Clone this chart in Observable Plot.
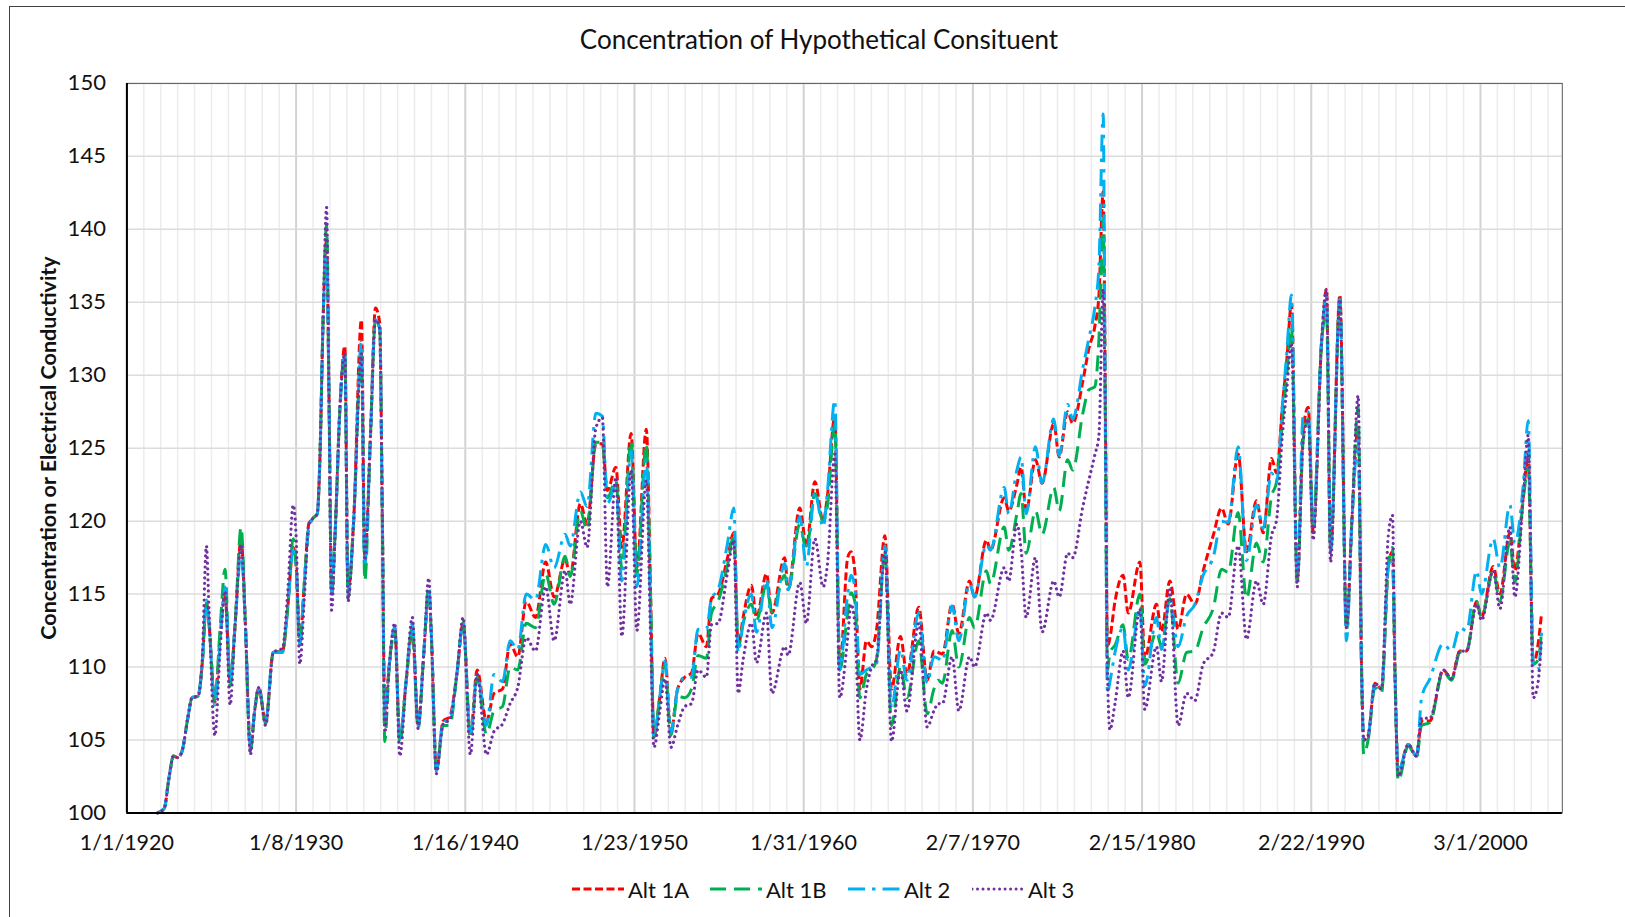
<!DOCTYPE html>
<html><head><meta charset="utf-8">
<script src="https://cdn.jsdelivr.net/npm/d3@7"></script>
<script src="https://cdn.jsdelivr.net/npm/@observablehq/plot@0.6"></script>
<style>
body{margin:0;background:#fff;}
#chart{position:relative;width:1625px;height:917px;overflow:hidden;background:#fff;font-family:Lato,"Open Sans",sans-serif;color:#111;}
#frame{position:absolute;left:9px;top:6px;width:1620px;height:1000px;border:1px solid #404040;box-sizing:border-box;}
#title{position:absolute;left:0;width:1638px;top:23px;text-align:center;font-size:26px;line-height:32px;}
#ylabel{position:absolute;left:48px;top:448px;transform:translate(-50%,-50%) rotate(-90deg);white-space:nowrap;font-weight:bold;font-size:21.5px;}
#plot{position:absolute;left:0;top:0;}
.leg{position:absolute;top:876px;height:26px;display:flex;align-items:center;font-size:22px;}
.leg svg{margin-right:4px;}
</style>
</head><body>
<div id="chart">
  <div id="frame"></div>
  <div id="plot"></div>
  <div id="title">Concentration of Hypothetical Consituent</div>
  <div id="ylabel">Concentration or Electrical Conductivity</div>
  <div id="legend"></div>
</div>
<script>
// ---- data (decimal year, in 366-day steps from 1/1/1920) ----
const years = [
1921.8,1922.2,1922.5,1922.75,1923.0,1923.25,1923.6,1923.85,1924.2,1924.45,1924.7,1924.85,1925.2,1925.5,1925.8,1926.1,1926.4,1926.75,1927.0,1927.3,
1927.55,1927.8,1928.2,1928.65,1929.2,1929.5,1929.83,1930.0,1930.22,1930.5,1930.75,1931.0,1931.25,1931.4,1931.6,1931.8,1931.95,1932.1,1932.3,1932.6,
1932.88,1933.07,1933.4,1933.86,1934.06,1934.4,1934.69,1934.94,1935.1,1935.24,1935.5,1935.83,1936.13,1936.5,1936.87,1937.21,1937.55,1937.84,1938.0,1938.29,
1938.69,1939.08,1939.5,1939.87,1940.3,1940.7,1941.25,1941.7,1942.2,1942.65,1943.1,1943.6,1944.15,1944.75,1945.25,1945.9,1946.2,1946.8,1947.2,1947.72,
1948.1,1948.4,1948.9,1949.25,1949.8,1950.14,1950.7,1950.95,1951.15,1951.5,1951.8,1952.15,1952.55,1952.97,1953.37,1953.76,1954.25,1954.55,1954.94,1955.5,
1955.87,1956.13,1956.42,1956.91,1957.21,1957.8,1958.12,1958.88,1959.08,1959.77,1960.16,1960.66,1961.15,1961.4,1961.84,1962.13,1962.6,1962.8,1963.02,1963.32,
1963.71,1964.01,1964.3,1964.8,1965.19,1965.72,1966.1,1966.8,1967.3,1967.7,1967.95,1968.2,1968.77,1969.17,1969.8,1970.1,1970.8,1971.04,1971.85,1972.12,
1972.6,1972.85,1973.15,1973.7,1974.09,1974.78,1975.1,1975.6,1975.9,1976.5,1976.85,1977.2,1977.45,1977.7,1977.82,1977.95,1978.1,1978.4,1978.88,1979.18,
1979.87,1980.16,1980.85,1981.15,1981.64,1982.13,1982.63,1983.12,1983.61,1984.2,1984.7,1985.09,1985.68,1986.17,1986.76,1987.16,1987.65,1987.95,1988.3,1988.55,
1988.83,1989.17,1989.52,1989.82,1990.11,1990.61,1990.9,1991.14,1991.69,1992.08,1992.4,1992.77,1992.97,1993.1,1993.36,1993.76,1994.15,1994.55,1994.8,1994.94,
1995.14,1995.73,1996.22,1996.52,1997.01,1997.8,1998.29,1998.78,1999.18,1999.77,2000.06,2000.75,2001.15,2001.74,2002.03,2002.53,2002.82,2003.12,2003.41,2003.61
];
const alt1A = [
100,100.3,102.5,103.9,103.8,104.2,106.5,107.9,108.0,110.2,114.4,113,107.6,112,115.0,109.0,113,118.8,113,104.4,
107,108.6,106.2,111,111.1,114,118.2,117,111.8,116,119.8,120.2,120.5,124,134,139.3,128,115,119,128,
132.0,115.2,120,133.8,117.5,126,134.6,133.6,120,106.9,110,112.7,105.0,109,112.4,106.1,111,115.3,112,102.9,
106.3,106.6,109.5,113.0,105.3,109.8,106.3,108.2,108.5,111.6,110.7,114.5,113.4,117.2,114.8,117.4,116.3,121.2,119.8,125.3,
125.3,122.1,123.7,118.2,126.0,116.8,126.3,115.0,105.2,108,110.6,105.5,108.5,109.3,109.6,112.3,111.4,114.7,115.0,117.5,
119.2,111.4,113.4,115.6,113.4,116.4,113.7,117.5,115.3,120.9,118.3,122.7,120.0,121.7,127.2,109.8,117.5,117.9,116.6,108.5,
111.8,111.4,112.5,119.0,108.5,112.1,109.5,114.1,109.1,111.1,111.0,110.9,114.3,112.3,115.9,114.8,118.7,118.0,121.6,120.7,
122.5,123.7,120.7,124.2,122.6,126.7,124.4,127.5,126.7,129.6,131.8,133.3,135.5,142.6,130,111.4,112.0,114.5,116.3,113.7,
117.2,110.6,114.3,112.4,115.9,112.6,115.0,114.3,116.6,119.0,120.9,119.8,124.6,117.9,121.4,119.2,124.3,123.3,128.0,131.0,
134.9,115.9,126.2,127.8,119.2,132.3,135.9,117.9,135.5,112.7,120,126.4,110,105.0,105.3,108.9,108.5,116.9,117.9,110,
102.8,104.7,103.9,106.3,106.3,109.8,109.2,111.1,111.1,114.5,113.4,116.9,115.0,119.2,116.6,121.7,124.6,110.2,111.6,113.7
];
const alt1B = [
100,100.3,102.5,103.9,103.8,104.2,106.5,107.9,108.0,110.2,114.4,113,107.6,112.5,116.7,108.7,113,119.6,113,104.2,
107,108.6,106.1,111,111.1,114,118.8,117,111.6,116,119.6,120.2,120.5,124,134,140.3,128,115,119,128,
131.5,114.7,120,131.5,115.9,126,133.8,133.2,120,104.9,110,112.5,104.8,109,112.8,105.8,111,115.5,112,102.9,
106.0,106.0,109.5,113.0,105.2,109.3,105.4,107.0,107.3,110.0,109.8,113.0,112.7,116.4,114.3,117.6,116.2,120.7,119.4,125.4,
125.4,121.6,122.8,116.8,125.5,116.4,125.3,115.0,105.2,108,110.2,105.3,108.0,107.9,108.5,110.8,110.6,113.7,114.5,117.0,
119.0,111.4,113.0,114.3,113.2,115.6,113.8,116.3,115.3,119.8,118.0,121.9,120.0,121.0,126.7,109.8,113.7,115.1,114.5,107.9,
109.5,109.8,110.5,118.0,106.0,110.0,107.9,111.8,106.8,108.5,109.1,108.9,112.5,110.0,113.4,112.7,116.6,115.7,119.6,118.0,
120.5,121.9,117.8,120.7,119.1,122.3,120.7,124.2,123.5,127.4,129.0,129.2,132.5,140.7,128,109.8,111.0,111.5,112.9,110.5,
115.0,110.2,112.4,111.4,114.7,108.9,111.0,111.1,112.7,114.0,116.7,116.5,120.6,114.7,118.5,117.2,121.7,122.7,127.0,130.0,
133.3,115.9,125.5,127.0,119.5,132.3,134.3,118.0,135.0,112.5,120,127.8,110,104.0,105.0,108.6,108.2,116.9,118.2,110,
102.2,104.6,103.8,106.0,106.2,109.7,109.1,111.0,111.1,114.5,113.4,116.6,114.5,118.6,115.8,121.5,123.7,110.2,110.5,112.5
];
const alt2 = [
100,100.3,102.5,103.9,103.8,104.2,106.5,107.9,108.0,110.2,114.6,113,107.4,111.5,115.5,109.0,113,117.9,113,104.5,
107,108.5,106.3,111,111.0,114,118.0,117,111.5,116,119.5,120.2,120.5,124,134,138.2,128,115,119,128,
131.3,115.0,120,132.3,117.0,126,133.8,133.2,120,106.5,110,112.8,105.0,109,113.0,106.0,111,115.3,112,102.9,
106.2,106.4,109.5,113.0,105.3,109.5,106.0,109.5,109.0,111.8,111.2,115.0,114.6,118.4,116.8,119.1,118.3,122.0,121.0,127.4,
127.2,121.2,122.5,115.9,124.8,115.5,124.2,113.7,105.2,108,110.4,105.5,108.5,109.3,109.3,112.6,112.6,114.7,115.3,118.5,
120.9,111.0,113.0,115.0,112.4,116.0,112.7,117.1,115.3,120.3,116.9,122.0,119.6,122.0,128.3,109.8,115.0,116.3,115.5,109.5,
109.8,110.0,110.2,118.3,107.2,111.2,109.1,113.7,108.9,110.7,110.6,110.4,114.2,111.8,115.7,114.8,118.4,118.0,122.3,120.5,
123.5,124.4,120.5,125.1,122.6,127.0,124.5,128.0,127.0,130.5,132.5,134.6,137.5,147.9,128,108.2,109.0,111.0,112.7,109.8,
114.0,108.7,113.4,111.2,114.7,111.4,113.5,114.3,116.3,117.5,120.0,119.9,125.1,117.3,121.1,119.5,123.3,122.7,128.0,131.5,
135.5,115.9,127.2,127.5,119.8,132.3,135.5,118.0,135.2,111.8,120,125.6,110,105.0,105.3,108.9,108.5,116.9,117.5,110,
102.8,104.7,103.9,107.9,109.2,111.6,111.1,112.7,112.5,116.6,115.0,118.8,116.8,121.1,118.5,122.5,126.9,110.0,109.8,112.4
];
const alt3 = [
100,100.3,102.5,103.9,103.8,104.2,106.5,107.9,108.0,110.5,118.3,114,105.3,111,115.2,107.4,113,118.4,113,104.0,
107,108.6,106.0,111,111.3,115,121.1,119,110.2,115,119.8,120.2,120.5,124,134,141.5,128,113.9,119,128,
131.5,114.5,120,131.5,117.3,126,133.8,133.2,120,105.5,110,113.0,103.9,109,113.4,105.8,111,116.1,112,102.7,
106.1,106.4,109.5,113.4,104.0,109.5,104.0,105.6,106.1,107.5,108.6,112.0,111.1,115.5,111.8,116.6,114.3,120.0,118.2,126.4,
127.1,115.5,123.0,112.1,123.5,112.5,122.8,112.0,104.5,107,109.2,104.5,106.0,107.3,107.5,109.8,109.3,112.9,113.0,116.5,
118.7,108.2,110.5,113.0,110.3,113.7,108.2,111.4,110.8,115.8,113.0,118.8,115.5,117.0,124.6,107.9,112.0,114.3,113.0,105.0,
108.5,110.0,110.5,117.9,104.9,109.8,107.0,113.0,105.9,107.0,107.5,107.5,110.7,107.0,110.7,110.0,113.7,113.2,116.8,115.9,
119.8,118.0,113.4,117.5,112.4,115.9,114.8,117.8,117.5,121.0,122.8,124.5,125.9,135.9,128,110.0,105.7,107.5,111.1,107.9,
114.0,107.1,111.4,109.0,115.3,106.0,108.2,107.7,110.2,111.0,113.7,113.4,118.3,111.9,115.9,114.3,119.0,120.1,126.0,129.0,
132.2,115.5,125.5,127.0,118.7,132.3,135.9,117.2,135.2,112.7,120,128.6,110,105.0,105.3,108.9,108.5,119.0,120.4,110,
102.5,104.7,103.9,106.5,106.5,109.8,109.2,111.1,111.1,114.3,113.2,116.6,114.0,119.6,114.8,121.7,125.9,107.9,109.0,112.0
];
const seriesNames = ["Alt 1A","Alt 1B","Alt 2","Alt 3"];
const seriesColors = ["#FF0000","#00B050","#00B0F0","#7030A0"];
const xTickLabels = ["1/1/1920","1/8/1930","1/16/1940","1/23/1950","1/31/1960","2/7/1970","2/15/1980","2/22/1990","3/1/2000"];
const yTicks = [100,105,110,115,120,125,130,135,140,145,150];

// ---- helpers ----
const DAY = 864e5;
const base = Date.UTC(1920,0,1);
const toDate = y => new Date(base + (y-1920)*366*DAY);
const parseMDY = s => { const [m,d,y] = s.split("/").map(Number); return new Date(Date.UTC(y,m-1,d)); };
const majorTicks = xTickLabels.map(parseMDY);
const labelMap = new Map(majorTicks.map((d,i)=>[+d, xTickLabels[i]]));
const minorTicks = d3.range(0,85).filter(i=>i%10!==0).map(i=>new Date(base + i*366*DAY));
const xMax = new Date(base + 31050*DAY);

const styles = [
  {strokeDasharray:"8,3.5", strokeLinecap:"butt"},
  {strokeDasharray:"16,8", strokeLinecap:"butt"},
  {strokeDasharray:"17,7,3.5,7", strokeLinecap:"butt"},
  {strokeDasharray:"0.01,5.5", strokeLinecap:"round"}
];
const allValues = [alt1A, alt1B, alt2, alt3];
const lineMarks = allValues.map((vals,k) => {
  const rows = years.map((y,i)=>({date: toDate(y), value: vals[i]}));
  return Plot.line(rows, {x:"date", y:"value", stroke: seriesColors[k], strokeWidth: k===3 ? 3.2 : 3,
    curve:"monotone-x", ...styles[k]});
});

const chart = Plot.plot({
  width:1625, height:917,
  marginLeft:126.4, marginRight:63.2, marginTop:82.9, marginBottom:104.5,
  style:{fontFamily:"Lato, 'Open Sans', sans-serif", fontSize:"22px", color:"#111", background:"transparent"},
  x:{type:"utc", domain:[new Date(base), xMax]},
  y:{domain:[100,150]},
  marks:[
    Plot.gridX(minorTicks,{stroke:"#ececec", strokeOpacity:1, strokeWidth:1.5}),
    Plot.gridX(majorTicks,{stroke:"#d2d2d2", strokeOpacity:1, strokeWidth:2}),
    Plot.gridY(yTicks,{stroke:"#dcdcdc", strokeOpacity:1, strokeWidth:1.5}),
    Plot.frame({stroke:"#595959", strokeWidth:1}),
    ...lineMarks,
    Plot.ruleX([new Date(base)],{stroke:"#000", strokeWidth:2}),
    Plot.ruleY([100],{stroke:"#000", strokeWidth:2}),
    Plot.axisY(yTicks,{tickSize:0, tickPadding:21, fontSize:22, label:null}),
    Plot.axisX(majorTicks,{tickSize:0, tickPadding:22, fontSize:21.5, tickFormat:d=>labelMap.get(+d), label:null})
  ]
});
document.getElementById("plot").appendChild(chart);

// ---- legend ----
const legendLeft = [572, 710, 848, 972];
const legend = document.getElementById("legend");
seriesNames.forEach((name,k)=>{
  const item = document.createElement("div");
  item.className = "leg";
  item.style.left = legendLeft[k] + "px";
  const s = styles[k];
  item.innerHTML = `<svg width="52" height="10"><line x1="0" y1="5" x2="52" y2="5" stroke="${seriesColors[k]}" stroke-width="3" stroke-dasharray="${s.strokeDasharray}" stroke-linecap="${s.strokeLinecap}"/></svg><span>${name}</span>`;
  legend.appendChild(item);
});
</script>
</body></html>
